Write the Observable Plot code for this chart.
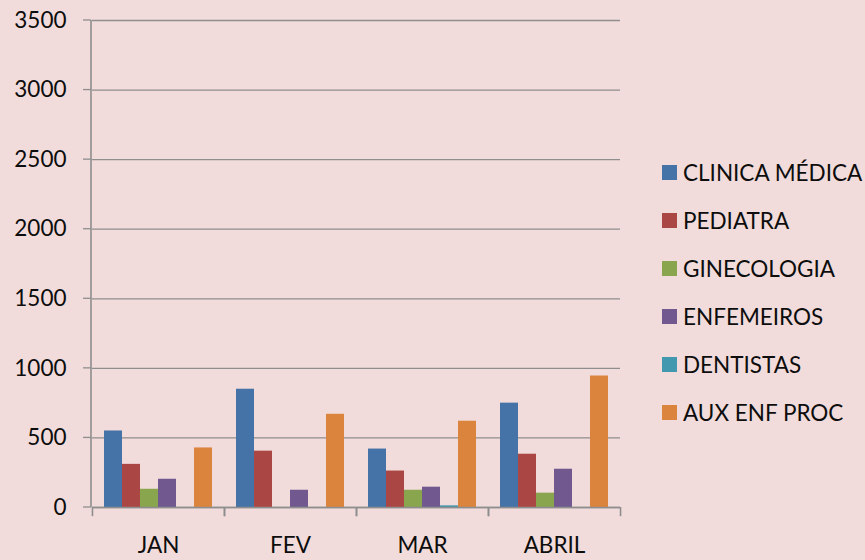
<!DOCTYPE html>
<html>
<head>
<meta charset="utf-8">
<script src="https://cdn.jsdelivr.net/npm/d3@7"></script>
<script src="https://cdn.jsdelivr.net/npm/@observablehq/plot@0.6"></script>
<style>
  html, body { margin: 0; padding: 0; background: #F2DCDB; }
  #wrap { position: relative; width: 865px; height: 560px; overflow: hidden; font-family: Lato, "Noto Sans", sans-serif; }
  #legend { position: absolute; left: 662px; top: 148px; }
  .item { display: flex; align-items: center; height: 48px; font-size: 22.5px; color: #0d0d0d; white-space: nowrap; }
  .sw { width: 15px; height: 15px; margin-right: 6px; flex: none; }
</style>
</head>
<body>
<div id="wrap"></div>
<script>
const months = ["JAN", "FEV", "MAR", "ABRIL"];
const series = ["CLINICA MÉDICA", "PEDIATRA", "GINECOLOGIA", "ENFEMEIROS", "DENTISTAS", "AUX ENF PROC"];
const clinicaMedica = [550, 850, 420, 750];
const pediatra = [310, 405, 262, 383];
const ginecologia = [131, 0, 124, 103];
const enfermeiros = [203, 124, 146, 275];
const dentistas = [0, 0, 12, 0];
const auxEnfProc = [428, 670, 620, 945];
const colors = ["#4572A7", "#AA4643", "#89A54E", "#71588F", "#4198AF", "#DB843D"];
const yTicks = [0, 500, 1000, 1500, 2000, 2500, 3000, 3500];

const valuesBySeries = [clinicaMedica, pediatra, ginecologia, enfermeiros, dentistas, auxEnfProc];
const data = [];
series.forEach((s, si) => months.forEach((m, mi) => data.push({month: m, series: s, value: valuesBySeries[si][mi]})));

const W = 865, H = 560, mL = 91, mR = 245, mT = 20, mB = 53;
const padOuter = 2 / 3;
const facetW = (W - mL - mR) / months.length;
const step = facetW / (series.length + 2 * padOuter);
const edgeOffset = step * (padOuter + 0.5);
const gridColor = "#8e8e8e";

const chart = Plot.plot({
  width: W, height: H,
  marginLeft: mL, marginRight: mR, marginTop: mT, marginBottom: mB,
  style: {background: "#F2DCDB", fontFamily: "Lato, 'Noto Sans', sans-serif", fontSize: "22.5px", color: "#0d0d0d"},
  fx: {domain: months, padding: 0, tickSize: 0, tickPadding: 30, label: null, axis: "bottom"},
  x: {domain: series, paddingInner: 0, paddingOuter: padOuter, axis: null},
  y: {domain: [0, 3500], ticks: yTicks, tickSize: 0, tickPadding: 26, label: null, tickFormat: d => String(d)},
  color: {domain: series, range: colors},
  marks: [
    Plot.ruleY(yTicks, {y: d => d, stroke: gridColor, strokeWidth: 1.3}),
    Plot.barY(data, {fx: "month", x: "series", y: "value", fill: "series"}),
    Plot.ruleX([series[0]], {x: d => d, y1: 0, y2: -66, dx: -edgeOffset, stroke: gridColor, strokeWidth: 1.6}),
    Plot.ruleX([series[series.length - 1]], {x: d => d, y1: 0, y2: -66, dx: edgeOffset, stroke: gridColor, strokeWidth: 1.6}),
    Plot.ruleY([0], {y: d => d, stroke: gridColor, strokeWidth: 1.6})
  ]
});
document.getElementById("wrap").appendChild(chart);

// y axis line and left ticks, drawn with the chart's own y scale
const yScale = chart.scale("y");
const svg = d3.select(chart);
svg.attr("overflow", "visible");
const axisG = svg.append("g");
axisG.append("line").attr("x1", mL).attr("x2", mL)
  .attr("y1", yScale.apply(3500)).attr("y2", yScale.apply(0))
  .attr("stroke", gridColor).attr("stroke-width", 1.6);
yTicks.forEach(t => {
  axisG.append("line").attr("x1", mL - 8).attr("x2", mL)
    .attr("y1", yScale.apply(t)).attr("y2", yScale.apply(t))
    .attr("stroke", gridColor).attr("stroke-width", 1.3);
});

const legend = d3.select("#wrap").append("div").attr("id", "legend");
series.forEach((s, i) => {
  const it = legend.append("div").attr("class", "item");
  it.append("div").attr("class", "sw").style("background", colors[i]);
  it.append("span").text(s);
});
</script>
</body>
</html>
